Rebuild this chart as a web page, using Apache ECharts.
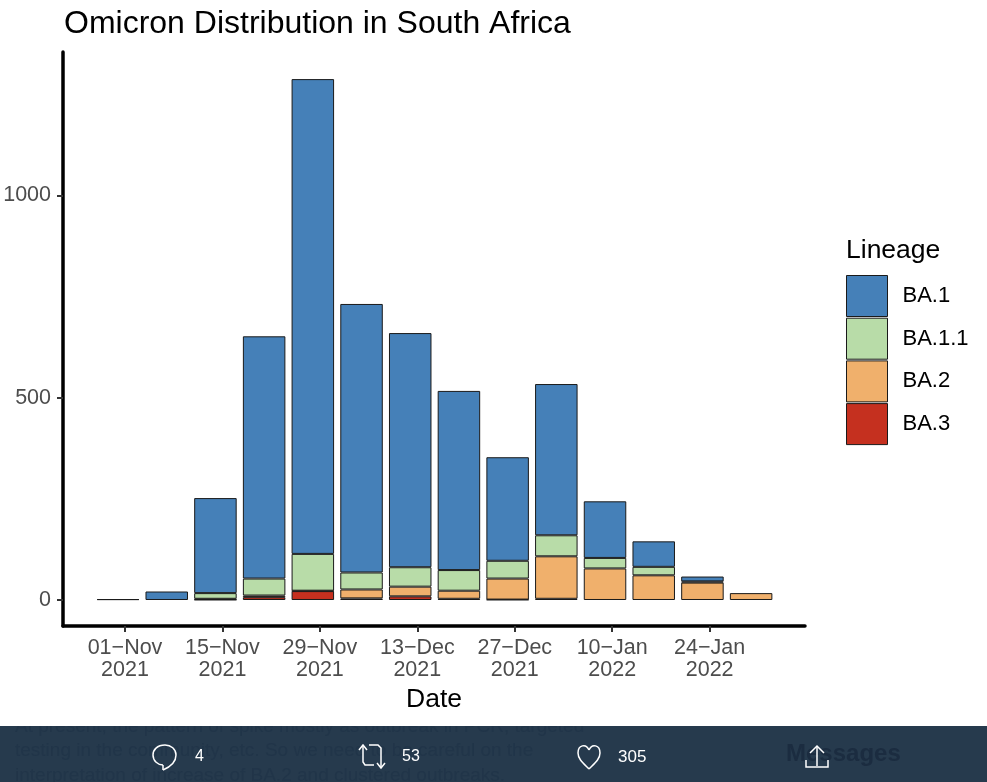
<!DOCTYPE html>
<html><head><meta charset="utf-8">
<style>html,body{margin:0;padding:0;background:#fff}#c{width:987px;height:782px}</style>
<script src="https://cdn.jsdelivr.net/npm/echarts@6/dist/echarts.min.js"></script>
</head><body><div id="c"></div>
<script>
const weekDates = ['2021-10-31','2021-11-07','2021-11-14','2021-11-21','2021-11-28','2021-12-05','2021-12-12','2021-12-19','2021-12-26','2022-01-02','2022-01-09','2022-01-16','2022-01-23','2022-01-30'];
const tickDates = ['2021-11-01','2021-11-15','2021-11-29','2021-12-13','2021-12-27','2022-01-10','2022-01-24'];
const tickLabels = ['01\u2212Nov\n2021','15\u2212Nov\n2021','29\u2212Nov\n2021','13\u2212Dec\n2021','27\u2212Dec\n2021','10\u2212Jan\n2022','24\u2212Jan\n2022'];
const yTicks = [0,500,1000];
const ba3  = [0,0,1,7,22,4,9,3,1,3,0,0,0,0];
const ba2  = [0,0,2,4,1,22,24,20,52,105,78,61,43,17];
const ba11 = [0,0,14,42,91,42,48,51,44,52,26,21,3,0];
const ba1  = [2,21,235,599,1174,664,579,443,256,374,140,63,12,0];
const lineageNames = ['BA.1','BA.1.1','BA.2','BA.3'];
const lineageColors = ['#4580b8','#b8dca8','#f0b06c','#c5301f'];

const font = '"Liberation Sans", Arial, sans-serif';
const ts = s => new Date(s + 'T00:00:00Z').getTime();
const DAY = 86400000;
const xMin = ts('2021-11-01')-8.91*DAY, xMax = ts('2021-11-01')+97.7*DAY;
// ECharts widens a bar axis by half a bar on each side; this narrower range lands on the visible axis's scale.
const barMin = ts('2021-11-01')-5.857*DAY, barMax = ts('2021-11-01')+94.69*DAY;
const tickTimes = tickDates.map(ts);
const mk = (name, vals, color) => ({
  name, type:'bar', stack:'total', barWidth:42.5, animation:false, xAxisIndex:0,
  data: weekDates.map((d,i)=>[ts(d), vals[i]>0 ? vals[i] : null]),
  itemStyle:{color, borderColor:'#1a1a1a', borderWidth:1}
});
const iconStyle = {fill:'none',stroke:'#fff',lineWidth:1.5};
const poly = pts => ({type:'polyline',z:102,shape:{points:pts},style:iconStyle});
const bez = (x1,y1,cx1,cy1,cx2,cy2,x2,y2) => ({type:'bezierCurve',z:102,shape:{x1,y1,cpx1:cx1,cpy1:cy1,cpx2:cx2,cpy2:cy2,x2,y2},style:iconStyle});
const chart = echarts.init(document.getElementById('c'), null, {renderer:'canvas'});
chart.setOption({
  animation:false,
  useUTC:true,
  backgroundColor:'#fff',
  title:[
    {text:'Omicron Distribution in South Africa', left:59, top:3, textStyle:{fontFamily:font,fontSize:32,fontWeight:'normal',color:'#000'}},
    {text:'Lineage', left:841, top:232, textStyle:{fontFamily:font,fontSize:26.5,fontWeight:'normal',color:'#000'}}
  ],
  grid:{left:63, right:182, top:52, bottom:156, outerBoundsMode:'none'},
  legend:{
    data:lineageNames, orient:'vertical', left:846, top:275,
    itemWidth:41, itemHeight:41, itemGap:0.7, icon:'rect',
    selectedMode:false,
    textStyle:{fontFamily:font,fontSize:22,color:'#000',padding:[0,0,0,10]},
    padding:0,
    itemStyle:{borderColor:'#1a1a1a',borderWidth:1}
  },
  xAxis:[{
    type:'time', min:barMin, max:barMax, show:false, splitLine:{show:false}
  },{
    type:'value', min:xMin, max:xMax, position:'bottom', splitLine:{show:false},
    name:'Date', nameLocation:'middle', nameGap:59,
    nameTextStyle:{fontFamily:font,fontSize:26.5,color:'#000'},
    axisLine:{show:true,onZero:false,lineStyle:{color:'#000',width:3.5}},
    axisTick:{show:true,length:6,customValues:tickTimes,lineStyle:{color:'#333',width:2}},
    axisLabel:{
      customValues:tickTimes, fontFamily:font, fontSize:21.5, color:'#4d4d4d', lineHeight:22, margin:11,
      hideOverlap:false, showMinLabel:true, showMaxLabel:true,
      formatter:v=>tickLabels[tickTimes.indexOf(v)]
    }
  }],
  yAxis:{
    type:'value', min:-64.3, max:1355, splitLine:{show:false},
    axisLine:{show:true,onZero:false,lineStyle:{color:'#000',width:3.5}},
    axisTick:{show:true,length:6,customValues:yTicks,lineStyle:{color:'#333',width:2}},
    axisLabel:{customValues:yTicks, fontFamily:font, fontSize:21.5, color:'#4d4d4d', margin:12, padding:[3,0,0,0], formatter:v=>String(v)}
  },
  series:[mk('BA.3',ba3,lineageColors[3]),mk('BA.2',ba2,lineageColors[2]),mk('BA.1.1',ba11,lineageColors[1]),mk('BA.1',ba1,lineageColors[0])],
  graphic:[
    {type:'rect',z:100,shape:{x:0,y:726,width:987,height:56},style:{fill:'#263a4d'}},
    {type:'text',z:101,style:{x:15,y:717,text:'At present, the pattern of spike mostly as outbreak in PCR, targeted',fill:'#213549',font:'19px '+font}},
    {type:'text',z:101,style:{x:15,y:741,text:'testing in the community, etc. So we need to be careful on the',fill:'#213549',font:'19px '+font}},
    {type:'text',z:101,style:{x:15,y:766,text:'interpretation of increase of BA.2 and clustered outbreaks.',fill:'#213549',font:'19px '+font}},
    {type:'rect',z:101.5,shape:{x:0,y:712,width:987,height:14},style:{fill:'#fff'}},
    {type:'text',z:101,style:{x:786,y:742,text:'Messages',fill:'#1b2c40',font:'bold 24px '+font}},
    {type:'text',z:102,style:{x:195,y:749,text:'4',fill:'#fff',font:'16px '+font}},
    {type:'text',z:102,style:{x:402,y:749,text:'53',fill:'#fff',font:'16px '+font}},
    {type:'text',z:102,style:{x:618,y:749,text:'305',fill:'#fff',font:'17px '+font}},
    // reply
    bez(165,745,157,745,153,750,153,755), bez(153,755,153,761,158,765,163,765),
    poly([[163,765],[163,770]]), bez(163,770,170,767,176,762,176,755), bez(176,755,176,749,171,745,165,745),
    // retweet
    poly([[359,750],[363,745],[367,750]]), poly([[363,745],[363,762],[365,765],[374,765]]),
    poly([[369,745],[378,745],[381,748],[381,768]]), poly([[377,763],[381,768],[385,763]]),
    // like
    bez(589,769,583,763,578,759,578,753), bez(578,753,578,745,586,743,589,750),
    bez(589,750,592,743,600,745,600,753), bez(600,753,600,759,595,763,589,769),
    // share
    poly([[817,766],[817,746]]), poly([[810,753],[817,746],[824,753]]), poly([[806,760],[806,767],[828,767],[828,760]])
  ]
});
</script></body></html>
